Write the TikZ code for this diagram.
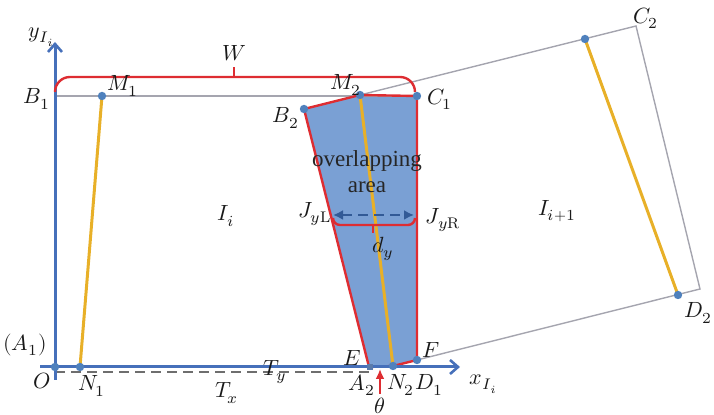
\documentclass[tikz,border=0pt]{standalone}
\usepackage{fontspec}
\usepackage{unicode-math}
\newfontfamily\timesf{Liberation Serif}
\usetikzlibrary{arrows.meta}
\definecolor{axisblue}{RGB}{70,112,186}
\definecolor{dotblue}{RGB}{79,129,189}
\definecolor{areablue}{RGB}{122,160,212}
\definecolor{myred}{RGB}{222,45,50}
\definecolor{myyellow}{RGB}{232,176,40}
\definecolor{mygray}{RGB}{165,165,175}
\definecolor{dashgray}{RGB}{110,110,110}
\definecolor{jblue}{RGB}{50,90,150}
\begin{document}
\begin{tikzpicture}[x=0.5pt,y=-0.5pt,
  axisl/.style={line width=1.5pt, color=axisblue},
  redl/.style={line width=1.2pt, color=myred, line join=round},
  yell/.style={line width=1.5pt, color=myyellow},
  grayl/.style={line width=0.7pt, color=mygray},
  dotpt/.style={circle, fill=dotblue, inner sep=0pt, minimum size=4.2pt},
  lbl/.style={font=\fontsize{11}{13}\selectfont, inner sep=0pt, text=black!90},
  areatxt/.style={font=\timesf\fontsize{11.5}{13}\selectfont, inner sep=0pt, text=black!85}
]
\useasboundingbox (0,0) rectangle (714,415);
% key points
\coordinate (O) at (55,367);
\coordinate (Ytop) at (55,42);
\coordinate (Ybot) at (55,380);
\coordinate (Xl) at (40,367);
\coordinate (Xr) at (460,367);
\coordinate (B1) at (55,96);
\coordinate (C1p) at (417,96);
\coordinate (M1p) at (102,96);
\coordinate (N1p) at (80,367);
\coordinate (B2p) at (304,109);
\coordinate (M2p) at (360,95);
\coordinate (C2) at (636,26);
\coordinate (D2) at (700,289);
\coordinate (Fp) at (417,360);
\coordinate (N2p) at (393,366);
\coordinate (Ep) at (369,367);
\coordinate (Tp) at (585,39);
\coordinate (Bp) at (678,295);
\coordinate (DL) at (55,372);
\coordinate (DR) at (369,372);
% overlap area
\fill[areablue] (Ep) -- (N2p) -- (Fp) -- (C1p) -- (M2p) -- (B2p) -- cycle;
% gray rectangle lines
\draw[grayl] (B1) -- (C1p);
\draw[grayl] (M2p) -- (C2) -- (D2) -- (Fp);
% red boundary
\draw[redl] (Ep) -- (N2p) -- (Fp) -- (C1p) -- (M2p) -- (B2p) -- cycle;
% yellow lines
\draw[yell] (M1p) -- (N1p);
\draw[yell] (M2p) -- (N2p);
\draw[yell] (Tp) -- (Bp);
% dashed line
\draw[dashgray, line width=0.9pt, dash pattern=on 5pt off 3pt] (DL) -- (DR);
% axes
\draw[axisl, -{Straight Barb[length=4pt,width=7pt,line width=1.3pt]}] (Ybot) -- (Ytop);
\draw[axisl, -{Straight Barb[length=4pt,width=7pt,line width=1.3pt]}] (Xl) -- (Xr);
% W brace
\coordinate (Wl) at (55,92);
\coordinate (Wr) at (415,92);
\coordinate (Wm) at (234,77);
\coordinate (Wt) at (234,67);
\draw[redl] (Wl) to[out=90,in=180] (70,77) -- (400,77) to[out=0,in=90] (Wr);
\draw[redl] (Wm) -- (Wt);
% J bracket
\coordinate (JL) at (333,215);
\coordinate (JR) at (414,215);
\draw[jblue, line width=1.1pt, dash pattern=on 5pt off 3pt, {Latex[length=5pt,width=5pt]}-{Latex[length=5pt,width=5pt]}] (JL) -- (JR);
\coordinate (Jm) at (373,225);
\coordinate (Jt) at (373,233);
\draw[redl] (333,218) to[out=-90,in=180] (340,225) -- (408,225) to[out=0,in=-90] (415,218);
\draw[redl] (Jm) -- (Jt);
% theta arrow
\coordinate (Th1) at (380,394);
\coordinate (Th2) at (380,369);
\draw[myred, line width=1pt, -{Latex[length=5pt,width=4.5pt]}] (Th1) -- (Th2);
% A2 small marker
\node[fill=jblue!80, inner sep=0pt, minimum size=3pt] (A2m) at (370,367) {};
% dots
\node[dotpt] (dO) at (O) {};
\node[dotpt] (dN1) at (N1p) {};
\node[dotpt] (dM1) at (M1p) {};
\node[dotpt] (dB2) at (B2p) {};
\node[dotpt] (dM2) at (M2p) {};
\node[dotpt] (dC1) at (C1p) {};
\node[dotpt] (dN2) at (N2p) {};
\node[dotpt] (dF) at (Fp) {};
\node[dotpt] (dT) at (Tp) {};
\node[dotpt] (dB) at (Bp) {};
% labels
\node[lbl] (ly) at (42,37) {$y_{I_i}$};
\node[lbl] (lx) at (484,384) {$x_{I_i}$};
\node[lbl] (lB1) at (37,99) {$B_1$};
\node[lbl] (lM1) at (123,86) {$M_1$};
\node[lbl] (lW) at (234,53) {$W$};
\node[lbl] (lM2) at (346,85) {$M_2$};
\node[lbl] (lB2) at (286,118) {$B_2$};
\node[lbl] (lC1) at (440,99) {$C_1$};
\node[lbl] (lC2) at (646,18) {$C_2$};
\node[lbl, anchor=east] (lD2) at (713,313) {$D_2$};
\node[lbl] (lA1) at (25,345) {$(A_1)$};
\node[lbl] (lO) at (42,381) {$O$};
\node[lbl] (lN1) at (92,386) {$N_1$};
\node[lbl] (lTx) at (227,393) {$T_x$};
\node[lbl] (lTy) at (275,372) {$T_y$};
\node[lbl] (lE) at (352,358) {$E$};
\node[lbl] (lA2) at (362,385) {$A_2$};
\node[lbl] (lN2) at (401,385) {$N_2$};
\node[lbl] (lD1) at (429,385) {$D_1$};
\node[lbl] (lF) at (431,350) {$F$};
\node[lbl] (lth) at (380,406) {$\theta$};
\node[lbl] (lJL) at (315,214) {$J_{y\mathrm{L}}$};
\node[lbl] (lJR) at (443,220) {$J_{y\mathrm{R}}$};
\node[lbl] (ldy) at (383,249) {$d_y$};
\node[lbl] (lIi) at (226,216) {$I_i$};
\node[lbl] (lIi1) at (557,211) {$I_{i+1}$};
\node[areatxt] (ov1) at (367,161) {overlapping};
\node[areatxt] (ov2) at (367,187) {area};
\end{tikzpicture}
\end{document}
